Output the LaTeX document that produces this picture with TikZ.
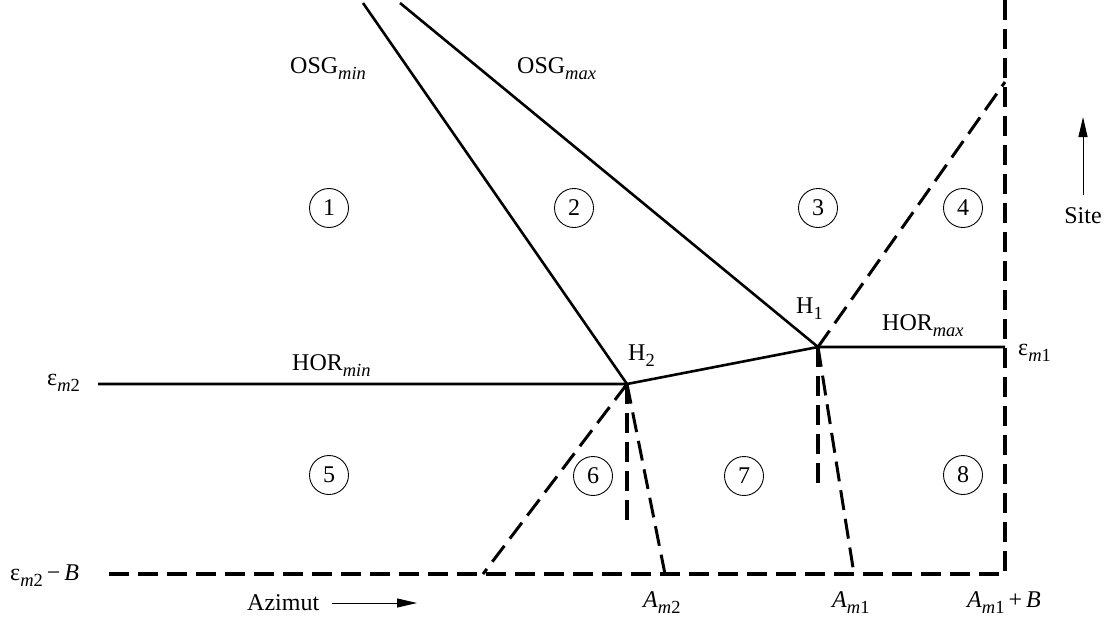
\documentclass[tikz,border=0pt]{standalone}
\usepackage{fontspec}
\setmainfont{Liberation Serif}
\usetikzlibrary{arrows.meta}
\newcommand{\lowsub}[1]{\raisebox{-6pt}{\fontsize{18.5}{18.5}\selectfont #1}}
\begin{document}
\begin{tikzpicture}[x=1pt,y=-1pt,
  solidline/.style={line width=2.6pt},
  dashline/.style={line width=3.4pt, dash pattern=on 20pt off 9pt},
  slantdash/.style={line width=3pt, dash pattern=on 20pt off 9pt},
  lbl/.style={anchor=base west, inner sep=0pt, font=\fontsize{24}{28}\selectfont},
  region/.style={circle, draw, line width=0.9pt, minimum size=39pt, inner sep=0pt, font=\fontsize{24}{28}\selectfont},
  axisarrow/.style={line width=1pt, -{Triangle[length=20pt,width=9pt]}}]
\useasboundingbox (0,0) rectangle (1107,623);
% key points
\coordinate (H1) at (818,347);
\coordinate (H2) at (627,384);
\coordinate (osgmin) at (363,3);
\coordinate (osgmax) at (400,3);
\coordinate (hormin) at (98,384);
\coordinate (hormax) at (1005,347);
\coordinate (rtop) at (1005,0);
\coordinate (rbot) at (1005,574);
\coordinate (lbot) at (100,574);
\coordinate (rdiag) at (1005,82);
\coordinate (ldiag) at (483,574);
\coordinate (vH2) at (627,528);
\coordinate (sH2) at (665,574);
\coordinate (vH1) at (818,490);
\coordinate (sH1) at (854,574);
% solid lines
\draw[solidline] (osgmin) -- (H2);
\draw[solidline] (osgmax) -- (H1);
\draw[solidline] (hormin) -- (H2) -- (H1) -- (hormax);
% dashed lines
\draw[dashline] (rtop) -- (rbot) -- (lbot);
\draw[slantdash] (H1) -- (rdiag);
\draw[slantdash] (H2) -- (ldiag);
\draw[dashline] (H2) -- (vH2);
\draw[slantdash] (H2) -- (sH2);
\draw[dashline] (H1) -- (vH1);
\draw[slantdash] (H1) -- (sH1);
% region numbers
\node[region] (r1) at (329,208) {1};
\node[region] (r2) at (574,208) {2};
\node[region] (r3) at (818,208) {3};
\node[region] (r4) at (963,208) {4};
\node[region] (r5) at (329,475) {5};
\node[region] (r6) at (593,476) {6};
\node[region] (r7) at (744,476) {7};
\node[region] (r8) at (963,475) {8};
% labels
\node[lbl] (lOSGmin) at (290,74) {OSG\lowsub{\textit{min}}};
\node[lbl] (lOSGmax) at (517,74) {OSG\lowsub{\textit{max}}};
\node[lbl] (lHORmin) at (292,370) {HOR\lowsub{\textit{min}}};
\node[lbl] (lHORmax) at (882,330) {HOR\lowsub{\textit{max}}};
\node[lbl] (lH1) at (796,313) {H\lowsub{1}};
\node[lbl] (lH2) at (628,360) {H\lowsub{2}};
\node[lbl] (lem1) at (1018,355) {ε\lowsub{\textit{m}1}};
\node[lbl] (lem2) at (47,385) {ε\lowsub{\textit{m}2}};
\node[lbl] (lem2B) at (10,580) {ε\lowsub{\textit{m}2}\,−\,\textit{B}};
\node[lbl] (lAm2) at (643,607) {\textit{A}\lowsub{\textit{m}2}};
\node[lbl] (lAm1) at (832,607) {\textit{A}\lowsub{\textit{m}1}};
\node[lbl] (lAm1B) at (967,607) {\textit{A}\lowsub{\textit{m}1}\,+\,\textit{B}};
\node[lbl] (lAz) at (247,610) {Azimut};
\node[lbl, anchor=base] (lSite) at (1083,223) {Site};
% axis arrows
\coordinate (azs) at (332,603);
\coordinate (aze) at (417,603);
\coordinate (sites) at (1083,195);
\coordinate (sitee) at (1083,117);
\draw[axisarrow] (azs) -- (aze);
\draw[axisarrow] (sites) -- (sitee);
\end{tikzpicture}
\end{document}
